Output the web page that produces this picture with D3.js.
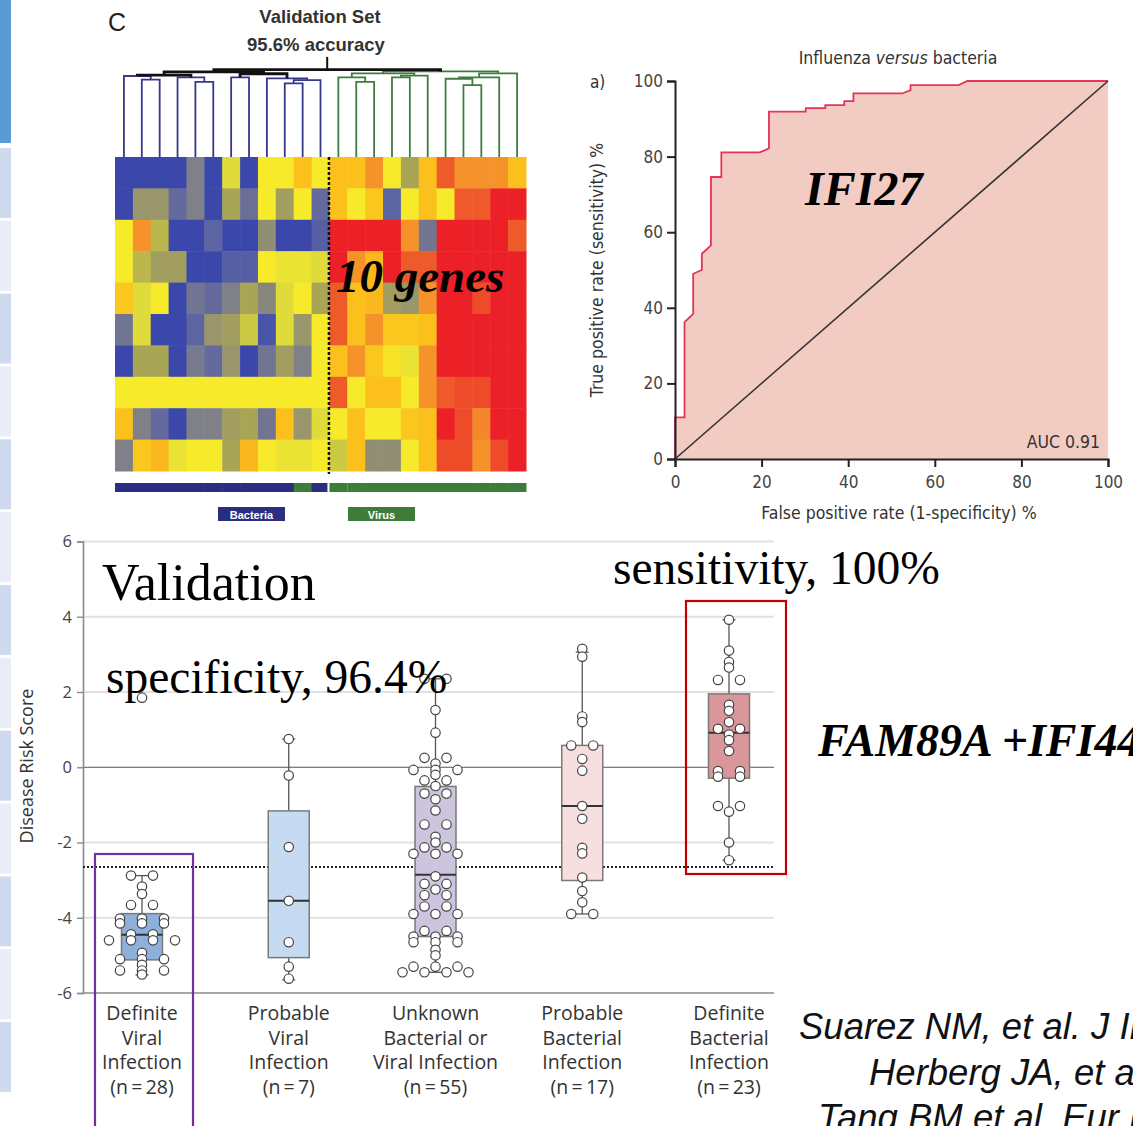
<!DOCTYPE html>
<html>
<head>
<meta charset="utf-8">
<script src="https://cdn.jsdelivr.net/npm/d3@7"></script>
<style>
  body { margin: 0; background: #fff; }
  svg { display: block; }
</style>
</head>
<body>
<script>
// ---- heatmap (10 genes x 23 samples), expression z-scores
var heatRows = [
  [-2,-2,-2,-2,-1,-2,-0.2,-2,0,0,0.6,0, 0.6,0.6,1.1,0,-0.5,0.6,1.6,1.1,1.1,1.1,0.6],
  [-2,-0.7,-0.7,-1.4,-1,-2,-0.5,-1.3,0,-0.6,0,-1.4, 0.6,0,0.5,-1.5,0,0.6,0,1.6,1.6,2,2],
  [0,1.1,-0.4,-2,-2,-1.5,-2,-2,-0.8,-2,-2,-1.6, 2,2,2,2,1.1,-1.2,2,2,2,2,1.6],
  [0,-0.4,-0.6,-0.6,-2,-2,-1.6,-1.6,0,-0.1,-0.1,-0.2, 2,1.1,0.7,2,1.6,1.6,2,2,2,2,2],
  [0.5,-0.2,0,-2,-1.2,-1.4,-1,-0.5,-0.9,-0.2,0,-0.5, 1.6,0.6,0.7,-0.6,-0.7,1.1,2,2,1.7,2,2],
  [-1.2,-0.2,-2,-2,-1.5,-0.7,-0.6,-0.3,-1.8,-0.2,-0.7,0, 1.6,0.6,1.1,0.5,0.5,0.6,2,2,2,2,2],
  [-2,-0.5,-0.5,-2,-1.1,-1.4,-0.7,-2,-1.2,-0.6,-1,0, 0.6,1.1,0.5,0.1,-0.1,1.1,2,2,2,2,2],
  [0,0,0,0,0,0,0,0,0,0,0,0, 1.6,0,0.6,0.6,0,1.1,1.6,1.7,1.7,2,2],
  [0.6,-1,-1.4,-2,-1,-1,-0.6,-0.5,-1.2,0.6,-0.7,-0.2, 0,0.6,0,0,0.5,0.6,2,1.7,1.2,2,2],
  [-1,0.5,0.7,-0.1,0,0,-0.5,0.7,0,-0.1,-0.1,0, -0.3,0.6,-0.8,-0.8,0,0.6,1.7,1.7,1.1,1.7,2]
];
// true class of each sample column (bar under the heatmap)
var sampleClass = ['B','B','B','B','B','B','B','B','B','B','V','B','V','V','V','V','V','V','V','V','V','V','V'];
// dendrogram: [left, right, height], leaves are column indexes
var dendroTree = [
  [
    [[0, [1, 2, 8.5], 8.9], [3, [4, 5, 8.25], 8.75], 9.0],
    [[6, 7, 8.75], [8, [[9, 10, 8.1], 11, 8.45], 8.65], 9.15],
    9.35
  ],
  [
    [[12, [13, 14, 8.25], 8.75], [[15, 16, 8.75], 17, 8.95], 9.2],
    [[[18, [19, 20, 7.9], 8.6], 21, 8.75], 22, 9.2],
    9.4
  ],
  9.6
];

// ---- ROC curve, IFI27
var rocFpr = [0,0,2.2,2.2,4.2,4.2,6.2,6.2,8.3,8.3,10.7,10.7,19.6,21.7,21.7,30.2,30.2,34.7,34.7,39.1,39.1,41.2,41.2,52.5,54.4,54.4,65.5,67.5,100];
var rocTpr = [0,11,11,36.2,38.4,49,50,54.3,56.5,74.6,74.6,81.1,81.1,82.2,91.9,91.9,92.8,92.8,93.6,93.6,94.7,94.7,96.7,96.7,97.6,98.9,98.9,100,100];
var rocTicks = [0, 20, 40, 60, 80, 100];

// ---- disease risk score box plots
var boxCats = ['dv', 'pv', 'un', 'pb', 'db'];
var boxLabels = [
  ['Definite', 'Viral', 'Infection', '(n\u2009=\u200928)'],
  ['Probable', 'Viral', 'Infection', '(n\u2009=\u20097)'],
  ['Unknown', 'Bacterial or', 'Viral Infection', '(n\u2009=\u200955)'],
  ['Probable', 'Bacterial', 'Infection', '(n\u2009=\u200917)'],
  ['Definite', 'Bacterial', 'Infection', '(n\u2009=\u200923)']
];
var boxQ1 = [-5.12, -5.06, -4.5, -3.01, -0.29];
var boxMedian = [-4.45, -3.55, -2.86, -1.03, 0.92];
var boxQ3 = [-3.89, -1.16, -0.51, 0.58, 1.95];
var whiskerLow = [-5.52, -5.65, -5.45, -3.9, -2.47];
var whiskerHigh = [-2.88, 0.75, 2.35, 3.06, 3.92];
var boxColors = ['#8eb1dc', '#c6dbf1', '#cdc5de', '#f7dfdf', '#d9979b'];
var scoresDV = [-2.88,-2.88,-3.17,-3.37,-3.66,-3.66,-4.02,-4.02,-4.02,-4.15,-4.15,-4.15,-4.44,-4.44,
  -4.6,-4.6,-4.6,-4.6,-4.93,-5.1,-5.1,-5.1,-5.25,-5.4,-5.4,-5.4,-5.51,1.85];
var scoresPV = [0.75, -0.22, -2.12, -3.55, -4.65, -5.3, -5.62];
var scoresUN = [2.35,2.35,1.52,0.92,0.25,0.25,0.1,-0.07,-0.07,-0.07,-0.35,-0.35,-0.2,-0.5,-0.7,-0.7,-0.85,-1.15,
  -1.52,-1.52,-1.85,-2.0,-2.13,-2.13,-2.3,-2.3,-2.3,-2.9,-3.1,-3.1,-3.25,-3.4,-3.4,-3.7,-3.7,-3.9,-3.9,-3.9,
  -4.35,-4.35,-4.5,-4.5,-4.5,-4.65,-4.65,-4.65,-4.85,-5.0,-5.3,-5.3,-5.3,-5.45,-5.45,-5.45,-5.45];
var scoresPB = [3.15, 2.94, 1.35, 1.2, 0.58, 0.58, 0.22, -0.09, -1.03, -1.37, -2.14, -2.29, -2.93, -3.29, -3.59, -3.9, -3.9];
var scoresDB = [3.92, 3.1, 2.8, 2.65, 2.32, 2.32, 1.66, 1.5, 1.2, 1.02, 1.02, 0.87, 0.72, 0.43,
  -0.1, -0.1, -0.25, -0.25, -1.03, -1.03, -1.18, -2.0, -2.47];
var boxScores = [scoresDV, scoresPV, scoresUN, scoresPB, scoresDB];
var threshold = -2.65;
var scoreTicks = [-6, -4, -2, 0, 2, 4, 6];

var citations = [
  'Suarez NM, et al. J Infect Dis 2015',
  'Herberg JA, et al. JAMA 2016',
  'Tang BM et al. Eur Respir J 2017'
];

var W = 1133, H = 1126;
var SERIF = '"Liberation Serif", "Times New Roman", serif';
var NARROW = '"DejaVu Sans Condensed", "DejaVu Sans", sans-serif';
var SANS = '"Open Sans", "Noto Sans", sans-serif';

var svg = d3.select('body').append('svg').attr('width', W).attr('height', H);
svg.append('rect').attr('width', W).attr('height', H).attr('fill', '#fff');

// ---- left slide strip
var strip = svg.append('g');
strip.append('rect').attr('x', 0).attr('y', 0).attr('width', 11).attr('height', 143).attr('fill', '#5b9bd5');
var stripY = d3.scaleBand().domain(d3.range(13)).range([148, 1092]).paddingInner(0.04);
strip.selectAll('rect.blk').data(d3.range(13)).enter().append('rect')
  .attr('class', 'blk')
  .attr('x', 0).attr('y', function(d) { return stripY(d); })
  .attr('width', 11).attr('height', stripY.bandwidth())
  .attr('fill', function(d) { return d % 2 === 0 ? '#cfdaee' : '#e8edf7'; });

// ---- heatmap panel
var hm = svg.append('g');
var xHeat = d3.scaleBand().domain(d3.range(23)).range([115, 526]);
var yHeat = d3.scaleBand().domain(d3.range(10)).range([157, 471]);
var heatColor = d3.scaleLinear()
  .domain([-2, -1.5, -1, -0.5, -0.2, 0, 0.6, 1.1, 1.6, 2])
  .range(['#3b47aa', '#5d64a2', '#7f8088', '#a9a556', '#dedb3a', '#f6ea2b', '#fbc01b', '#f5922a', '#ef5a2a', '#ec2027']);

heatRows.forEach(function(row, r) {
  hm.selectAll(null).data(row).enter().append('rect')
    .attr('x', function(d, c) { return xHeat(c); })
    .attr('y', yHeat(r))
    .attr('width', xHeat.bandwidth() + 0.5)
    .attr('height', yHeat.bandwidth() + 0.5)
    .attr('fill', function(d) { return heatColor(d); });
});

hm.append('line')
  .attr('x1', xHeat(12) - 0.5).attr('x2', xHeat(12) - 0.5)
  .attr('y1', 157).attr('y2', 474)
  .attr('stroke', '#111').attr('stroke-width', 2.5).attr('stroke-dasharray', '3,2');

// dendrogram
var yDend = d3.scaleLinear().domain([0, 10]).range([157, 66]);
function drawNode(node, depth) {
  if (typeof node === 'number') {
    return { x: xHeat(node) + xHeat.bandwidth() / 2, h: 0, side: node < 12 ? 'B' : 'V' };
  }
  var l = drawNode(node[0], depth + 1);
  var r = drawNode(node[1], depth + 1);
  var h = node[2];
  var side = l.side === r.side ? l.side : 'M';
  var color = '#111';
  if (side === 'B' && h < 8.95) color = '#35388c';
  if (side === 'V') color = '#3f7d3f';
  hm.append('path')
    .attr('d', 'M' + l.x + ',' + yDend(l.h) + 'V' + yDend(h) + 'H' + r.x + 'V' + yDend(r.h))
    .attr('fill', 'none')
    .attr('stroke', color)
    .attr('stroke-width', color === '#111' ? 2.8 : 1.8);
  return { x: (l.x + r.x) / 2, h: h, side: side };
}
var rootPos = drawNode(dendroTree, 0);
hm.append('line')
  .attr('x1', rootPos.x).attr('x2', rootPos.x)
  .attr('y1', yDend(rootPos.h)).attr('y2', yDend(11))
  .attr('stroke', '#111').attr('stroke-width', 2);

// class bar under heatmap
hm.selectAll('rect.cls').data(sampleClass).enter().append('rect')
  .attr('class', 'cls')
  .attr('x', function(d, i) { return xHeat(i); })
  .attr('y', 483).attr('height', 9)
  .attr('width', function(d, i) { return xHeat.bandwidth() + (i === 11 ? -2 : (i === 12 ? 0 : 0.5)); })
  .attr('fill', function(d) { return d === 'B' ? '#2b2e80' : '#3c7d3a'; });

var legendItems = [
  { label: 'Bacteria', color: '#2b2e80', x: 218 },
  { label: 'Virus', color: '#3c7d3a', x: 348 }
];
legendItems.forEach(function(it) {
  hm.append('rect').attr('x', it.x).attr('y', 507).attr('width', 67).attr('height', 14).attr('fill', it.color);
  hm.append('text').attr('x', it.x + 33.5).attr('y', 518.5)
    .attr('text-anchor', 'middle')
    .attr('font-family', '"Liberation Sans", Arial, sans-serif')
    .attr('font-weight', 'bold').attr('font-size', 11)
    .attr('fill', '#fff').text(it.label);
});

hm.append('text').attr('x', 108).attr('y', 31)
  .attr('font-family', '"Liberation Sans", Arial, sans-serif').attr('font-size', 25)
  .attr('fill', '#222').text('C');
hm.append('text').attr('x', 320).attr('y', 23).attr('text-anchor', 'middle')
  .attr('font-family', '"Liberation Sans", Arial, sans-serif').attr('font-weight', 'bold')
  .attr('font-size', 18.5).attr('fill', '#333').text('Validation Set');
hm.append('text').attr('x', 316).attr('y', 51).attr('text-anchor', 'middle')
  .attr('font-family', '"Liberation Sans", Arial, sans-serif').attr('font-weight', 'bold')
  .attr('font-size', 18.5).attr('fill', '#333').text('95.6% accuracy');
hm.append('text').attr('x', 336).attr('y', 292)
  .attr('font-family', SERIF).attr('font-weight', 'bold').attr('font-style', 'italic')
  .attr('font-size', 47).attr('fill', '#000').text('10 genes');

// ---- ROC panel
var roc = svg.append('g');
var xRoc = d3.scaleLinear().domain([0, 100]).range([675, 1108]);
var yRoc = d3.scaleLinear().domain([0, 100]).range([459, 81]);
var rocPts = rocFpr.map(function(f, i) { return [f, rocTpr[i]]; });

roc.append('path').datum(rocPts)
  .attr('d', d3.area().x(function(d) { return xRoc(d[0]); }).y0(yRoc(0)).y1(function(d) { return yRoc(d[1]); }))
  .attr('fill', '#f2cbc3');
roc.append('path').datum(rocPts)
  .attr('d', d3.line().x(function(d) { return xRoc(d[0]); }).y(function(d) { return yRoc(d[1]); }))
  .attr('fill', 'none').attr('stroke', '#e3345a').attr('stroke-width', 1.8);
roc.append('line')
  .attr('x1', xRoc(0)).attr('y1', yRoc(0)).attr('x2', xRoc(100)).attr('y2', yRoc(100))
  .attr('stroke', '#333').attr('stroke-width', 1.6);

var rocYAxis = roc.append('g').attr('transform', 'translate(' + xRoc(0) + ',0)')
  .call(d3.axisLeft(yRoc).tickValues(rocTicks).tickSize(8).tickPadding(4));
var rocXAxis = roc.append('g').attr('transform', 'translate(0,' + yRoc(0) + ')')
  .call(d3.axisBottom(xRoc).tickValues(rocTicks).tickSize(8).tickPadding(9));
[rocYAxis, rocXAxis].forEach(function(a) {
  a.select('.domain').attr('stroke', '#222').attr('stroke-width', 2);
  a.selectAll('.tick line').attr('stroke', '#222').attr('stroke-width', 2);
  a.selectAll('.tick text').attr('font-family', NARROW).attr('font-size', 17).attr('fill', '#444');
});

var rocTitle = roc.append('text').attr('x', 898).attr('y', 64).attr('text-anchor', 'middle')
  .attr('font-family', NARROW).attr('font-size', 17.5).attr('fill', '#333');
rocTitle.append('tspan').text('Influenza ');
rocTitle.append('tspan').attr('font-style', 'italic').text('versus');
rocTitle.append('tspan').text(' bacteria');
roc.append('text').attr('x', 590).attr('y', 88)
  .attr('font-family', NARROW).attr('font-size', 17).attr('fill', '#333').text('a)');
roc.append('text').attr('transform', 'translate(603,270) rotate(-90)').attr('text-anchor', 'middle')
  .attr('font-family', NARROW).attr('font-size', 17.5).attr('fill', '#333')
  .text('True positive rate (sensitivity) %');
roc.append('text').attr('x', 899).attr('y', 519).attr('text-anchor', 'middle')
  .attr('font-family', NARROW).attr('font-size', 17.5).attr('fill', '#333')
  .text('False positive rate (1-specificity) %');
roc.append('text').attr('x', 1100).attr('y', 448).attr('text-anchor', 'end')
  .attr('font-family', NARROW).attr('font-size', 17.5).attr('fill', '#333').text('AUC 0.91');
roc.append('text').attr('x', 805).attr('y', 205)
  .attr('font-family', SERIF).attr('font-weight', 'bold').attr('font-style', 'italic')
  .attr('font-size', 48).attr('fill', '#000').text('IFI27');

// ---- box plot panel
var bp = svg.append('g');
var yScore = d3.scaleLinear().domain([-6, 6]).range([993, 541.5]);
var xCat = d3.scalePoint().domain(boxCats).range([142, 729]);
var plotLeft = 83, plotRight = 774, boxW = 41, capW = 13, swarmStep = 22;

bp.selectAll('line.grid').data(scoreTicks.filter(function(t) { return t !== 0 && t !== -6; }))
  .enter().append('line').attr('class', 'grid')
  .attr('x1', plotLeft).attr('x2', plotRight)
  .attr('y1', function(d) { return yScore(d); }).attr('y2', function(d) { return yScore(d); })
  .attr('stroke', '#e1e1e1').attr('stroke-width', 2);
bp.append('line').attr('x1', plotLeft).attr('x2', plotRight)
  .attr('y1', yScore(0)).attr('y2', yScore(0)).attr('stroke', '#555').attr('stroke-width', 1.2);
bp.append('line').attr('x1', plotLeft).attr('x2', plotRight)
  .attr('y1', yScore(-6)).attr('y2', yScore(-6)).attr('stroke', '#8a8a8a').attr('stroke-width', 1.6);

var scoreAxis = bp.append('g').attr('transform', 'translate(' + plotLeft + ',0)')
  .call(d3.axisLeft(yScore).tickValues(scoreTicks).tickSize(6).tickPadding(5)
    .tickFormat(function(d) { return String(d); }));
scoreAxis.select('.domain').attr('stroke', '#8a8a8a').attr('stroke-width', 1.6);
scoreAxis.selectAll('.tick line').attr('stroke', '#8a8a8a').attr('stroke-width', 1.4);
scoreAxis.selectAll('.tick text').attr('font-family', SANS).attr('font-size', 16.5).attr('fill', '#444');

bp.append('text').attr('transform', 'translate(33,766) rotate(-90)').attr('text-anchor', 'middle')
  .attr('font-family', SANS).attr('font-size', 18).attr('fill', '#333').text('Disease Risk Score');

// threshold
bp.append('line').attr('x1', plotLeft).attr('x2', plotRight)
  .attr('y1', yScore(threshold)).attr('y2', yScore(threshold))
  .attr('stroke', '#222').attr('stroke-width', 2).attr('stroke-dasharray', '2,2');

function swarmOffsets(values) {
  var groups = d3.group(values.map(function(v, i) { return { v: v, i: i }; }), function(d) { return d.v; });
  var offs = [];
  groups.forEach(function(items) {
    var n = items.length;
    items.forEach(function(it, k) { offs[it.i] = (k - (n - 1) / 2) * swarmStep; });
  });
  return offs;
}

boxCats.forEach(function(cat, i) {
  var cx = xCat(cat);
  var g = bp.append('g');
  g.append('line').attr('x1', cx).attr('x2', cx)
    .attr('y1', yScore(whiskerLow[i])).attr('y2', yScore(whiskerHigh[i]))
    .attr('stroke', '#555').attr('stroke-width', 1.3);
  [whiskerLow[i], whiskerHigh[i]].forEach(function(w) {
    g.append('line').attr('x1', cx - capW / 2).attr('x2', cx + capW / 2)
      .attr('y1', yScore(w)).attr('y2', yScore(w)).attr('stroke', '#555').attr('stroke-width', 1.3);
  });
  g.append('rect').attr('x', cx - boxW / 2).attr('width', boxW)
    .attr('y', yScore(boxQ3[i])).attr('height', yScore(boxQ1[i]) - yScore(boxQ3[i]))
    .attr('fill', boxColors[i]).attr('stroke', '#7a7a7a').attr('stroke-width', 1.5);
  g.append('line').attr('x1', cx - boxW / 2).attr('x2', cx + boxW / 2)
    .attr('y1', yScore(boxMedian[i])).attr('y2', yScore(boxMedian[i]))
    .attr('stroke', '#333').attr('stroke-width', 2);
  var offs = swarmOffsets(boxScores[i]);
  g.selectAll('circle').data(boxScores[i]).enter().append('circle')
    .attr('cx', function(d, k) { return cx + offs[k]; })
    .attr('cy', function(d) { return yScore(d); })
    .attr('r', 4.7)
    .attr('fill', '#fff').attr('stroke', '#444').attr('stroke-width', 1.2);
  var lab = g.append('text').attr('text-anchor', 'middle')
    .attr('font-family', SANS).attr('font-size', 19.5).attr('fill', '#333');
  boxLabels[i].forEach(function(line, k) {
    lab.append('tspan').attr('x', cx).attr('y', 1020 + k * 24.7).text(line);
  });
});

// highlight frames
bp.append('rect').attr('x', 95).attr('y', 854).attr('width', 98).attr('height', 290)
  .attr('fill', 'none').attr('stroke', '#7030a0').attr('stroke-width', 2.2);
bp.append('rect').attr('x', 686).attr('y', 601).attr('width', 100).attr('height', 273)
  .attr('fill', 'none').attr('stroke', '#c00000').attr('stroke-width', 2.2);

// overlay annotations
bp.append('text').attr('x', 102).attr('y', 600)
  .attr('font-family', SERIF).attr('font-size', 52).attr('fill', '#000').text('Validation');
bp.append('text').attr('x', 106).attr('y', 693)
  .attr('font-family', SERIF).attr('font-size', 47.5).attr('fill', '#000').text('specificity, 96.4%');
bp.append('text').attr('x', 613).attr('y', 584)
  .attr('font-family', SERIF).attr('font-size', 47.5).attr('fill', '#000').text('sensitivity, 100%');
bp.append('text').attr('x', 818).attr('y', 756)
  .attr('font-family', SERIF).attr('font-weight', 'bold').attr('font-style', 'italic')
  .attr('font-size', 46).attr('fill', '#000').text('FAM89A +IFI44L');

var citeX = [799, 869, 818];
var citeY = [1039, 1085, 1130];
citations.forEach(function(c, i) {
  svg.append('text').attr('x', citeX[i]).attr('y', citeY[i])
    .attr('font-family', '"Liberation Sans", Arial, sans-serif').attr('font-style', 'italic')
    .attr('font-size', 36.5).attr('fill', '#111').text(c);
});
</script>
</body>
</html>
